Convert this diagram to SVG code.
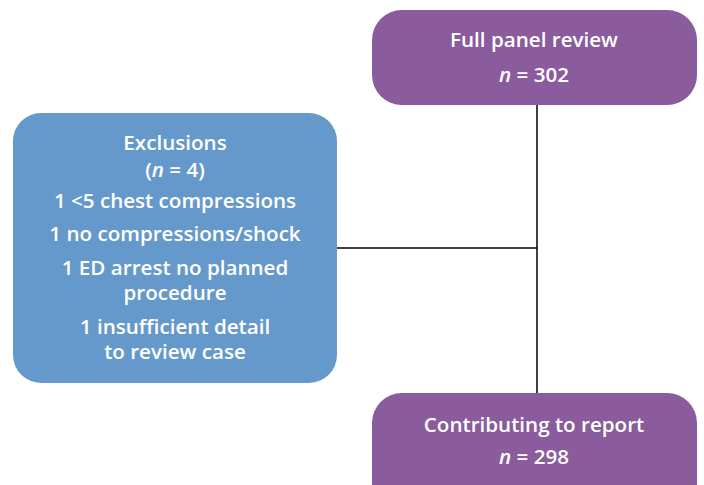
<svg xmlns="http://www.w3.org/2000/svg" width="704" height="485" viewBox="0 0 704 485">
<style>
.purple{fill:#8A5B9D}
.blue{fill:#6699CB}
text{font-family:"Open Sans",Lato,"Liberation Sans",sans-serif;font-size:20.6px;font-weight:600;fill:#fff;text-anchor:middle}
.c{stroke:#000;stroke-width:1.5;fill:none}
</style>
<rect width="704" height="485" fill="#fff"/>
<g id="connectors">
<line class="c" x1="537" y1="104" x2="537" y2="394"/>
<line class="c" x1="337" y1="248" x2="537" y2="248"/>
</g>
<g id="full-panel">
<rect class="purple" x="372" y="10" width="325" height="95" rx="30"/>
<text x="534" y="47">Full panel review</text>
<text x="534" y="82"><tspan font-style="italic">n</tspan> = 302</text>
</g>
<g id="exclusions">
<rect class="blue" x="13" y="113" width="324" height="270" rx="28"/>
<text x="175" y="150">Exclusions<tspan x="175" y="177">(<tspan font-style="italic">n</tspan> = 4)</tspan></text>
<text x="175" y="208">1 &lt;5 chest compressions</text>
<text x="175" y="241">1 no compressions/shock</text>
<text x="175" y="275">1 ED arrest no planned<tspan x="175" y="300">procedure</tspan></text>
<text x="175" y="334">1 insufficient detail<tspan x="175" y="359">to review case</tspan></text>
</g>
<g id="contributing">
<rect class="purple" x="372" y="393" width="325" height="120" rx="30"/>
<text x="534" y="432">Contributing to report</text>
<text x="534" y="464"><tspan font-style="italic">n</tspan> = 298</text>
</g>
</svg>
